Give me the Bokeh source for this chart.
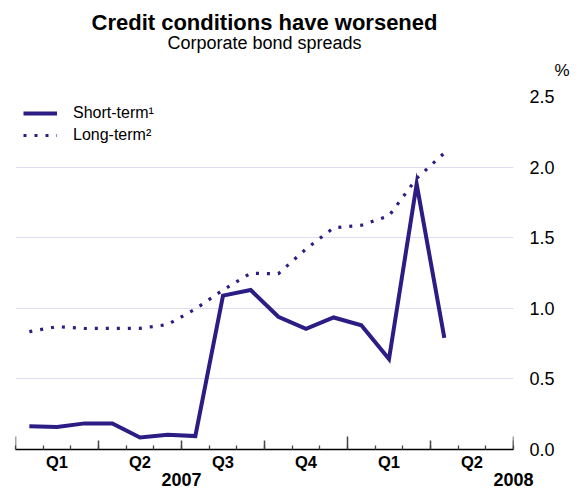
import math
from bokeh.plotting import figure
from bokeh.models import (Range1d, FixedTicker, Legend, LegendItem, Title,
                          NumeralTickFormatter, LinearAxis)
from bokeh.embed import file_html
from bokeh.resources import INLINE

# ---- data ----
months = ["Jan 2007", "Feb 2007", "Mar 2007", "Apr 2007", "May 2007", "Jun 2007",
          "Jul 2007", "Aug 2007", "Sep 2007", "Oct 2007", "Nov 2007", "Dec 2007",
          "Jan 2008", "Feb 2008", "Mar 2008", "Apr 2008"]
short_term = [0.165, 0.16, 0.185, 0.185, 0.085, 0.105, 0.095, 1.09,
              1.13, 0.94, 0.855, 0.935, 0.88, 0.64, 1.88, 0.79]
long_term = [0.835, 0.87, 0.857, 0.858, 0.858, 0.885, 0.995, 1.13,
             1.248, 1.245, 1.42, 1.57, 1.588, 1.655, 1.92, 2.10]
quarter_labels = ["Q1", "Q2", "Q3", "Q4", "Q1", "Q2"]
year_labels = ["2007", "2008"]
y_ticks = [0.0, 0.5, 1.0, 1.5, 2.0, 2.5]

n_months_axis = 18  # Jan 2007 .. Jun 2008
FONT = "Liberation Sans"
COLOR = "#2b1d83"
GRID = "#dedcf0"
TICK = "#444444"

x = [i + 0.5 for i in range(len(months))]  # mid-month positions

p = figure(width=582, height=490,
           x_range=Range1d(0, n_months_axis), y_range=Range1d(0, 2.5),
           output_backend="svg", toolbar_location=None,
           y_axis_location="right", title=None,
           min_border_left=15, min_border_right=69,
           min_border_top=96, min_border_bottom=41)
p.outline_line_color = None
p.background_fill_color = "white"
p.border_fill_color = "white"

# grid
p.xgrid.visible = False
p.ygrid[0].ticker = FixedTicker(ticks=[t for t in y_ticks if t > 0])
p.ygrid[0].grid_line_color = GRID
p.ygrid[0].grid_line_width = 1

# x axis: quarter labels centred in quarters, monthly minor ticks
q_centres = [1.5 + 3 * i for i in range(len(quarter_labels))]
xa = p.xaxis[0]
xa.ticker = FixedTicker(ticks=q_centres, minor_ticks=list(range(n_months_axis + 1)))
xa.major_label_overrides = {c: lab for c, lab in zip(q_centres, quarter_labels)}
xa.major_tick_in = 0
xa.major_tick_out = 0
xa.minor_tick_in = 4
xa.minor_tick_out = 0
xa.minor_tick_line_color = TICK
xa.minor_tick_line_width = 1.3
xa.axis_line_color = "black"
xa.axis_line_width = 1.5
xa.major_label_standoff = 3
xa.major_label_text_font = FONT
xa.major_label_text_font_style = "bold"
xa.major_label_text_font_size = "16.5px"
xa.major_label_text_color = "black"

# second x axis carrying the year labels
year_pos = [6, n_months_axis]
ya2 = LinearAxis(ticker=FixedTicker(ticks=year_pos),
                 major_label_overrides={yp: lab for yp, lab in zip(year_pos, year_labels)},
                 axis_line_color=None, major_tick_line_color=None,
                 minor_tick_line_color=None, major_tick_in=0, major_tick_out=0,
                 minor_tick_in=0, minor_tick_out=0,
                 major_label_standoff=-1, major_label_text_font=FONT,
                 major_label_text_font_style="bold",
                 major_label_text_font_size="18px",
                 major_label_text_color="black")
p.add_layout(ya2, "below")

# y axis on the right
ya = p.yaxis[0]
ya.ticker = FixedTicker(ticks=y_ticks)
ya.formatter = NumeralTickFormatter(format="0.0")
ya.axis_line_color = None
ya.major_tick_line_color = None
ya.minor_tick_line_color = None
ya.major_label_standoff = 10
ya.major_label_text_font = FONT
ya.major_label_text_font_size = "18px"
ya.major_label_text_color = "black"

# quarter and year boundary ticks (longer)
q_bounds = [m for m in range(0, n_months_axis + 1, 3) if m % 12 != 0]
y_bounds = [m for m in range(0, n_months_axis + 1, 3) if m % 12 == 0] + [n_months_axis]
p.ray(x=q_bounds, y=[0] * len(q_bounds), length=9, length_units="screen",
      angle=math.pi / 2, line_color=TICK, line_width=1.5)
p.ray(x=y_bounds, y=[0] * len(y_bounds), length=13, length_units="screen",
      angle=math.pi / 2, line_color=TICK, line_width=1.5)

# series
r_short = p.line(x, short_term, line_color=COLOR, line_width=4, line_join="miter")
r_long = p.line(x, long_term, line_color=COLOR, line_width=3.2,
                line_dash="3 8", line_cap="butt")

legend = Legend(items=[LegendItem(label="Short-term\u00b9", renderers=[r_short]),
                       LegendItem(label="Long-term\u00b2", renderers=[r_long])],
                location=(8, 303), glyph_width=34, glyph_height=22,
                label_height=22, label_standoff=16, spacing=0, padding=3,
                margin=0, background_fill_alpha=0, border_line_color=None,
                label_text_font=FONT, label_text_font_size="16px",
                label_text_color="black")
p.add_layout(legend)

# texts above the plot (first added = nearest the frame)
p.add_layout(Title(text="%", align="right", offset=-56, standoff=34,
                   vertical_align="bottom", text_font=FONT,
                   text_font_size="17px", text_font_style="normal",
                   text_color="black"), "above")
p.add_layout(Title(text="Corporate bond spreads", align="center", standoff=-22,
                   vertical_align="bottom", text_font=FONT,
                   text_font_size="18px", text_font_style="normal",
                   text_color="black"), "above")
p.add_layout(Title(text="Credit conditions have worsened", align="center",
                   standoff=14, vertical_align="bottom", text_font=FONT,
                   text_font_size="22px", text_font_style="bold",
                   text_color="black"), "above")

open("out.html", "w").write(file_html(p, INLINE))
